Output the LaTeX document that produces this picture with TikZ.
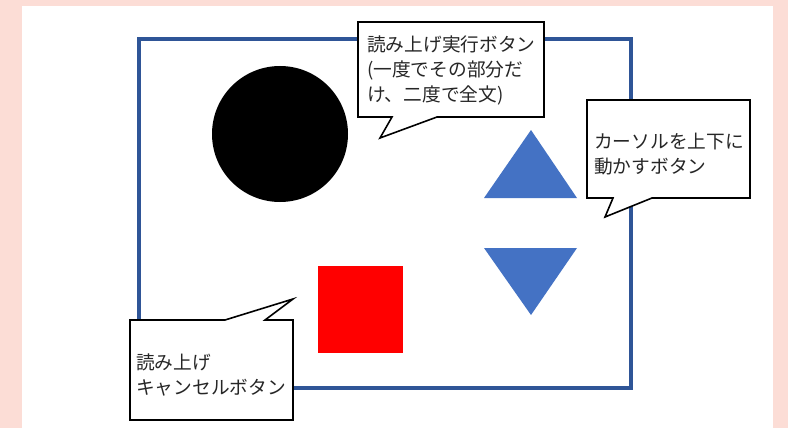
\documentclass[tikz,border=0pt]{standalone}
\usepackage{fontspec}
\newfontfamily\jp{Noto Sans CJK JP}
\definecolor{pinkbg}{HTML}{FCDDD6}
\definecolor{framebl}{HTML}{2F5597}
\definecolor{triblue}{HTML}{4472C4}
\tikzset{
  callout/.style={draw=black, fill=white, line width=1.6pt, line join=miter},
  ctext/.style={font=\jp\fontsize{18.7}{25}\selectfont, align=left, inner sep=0pt, anchor=west, text=black!85},
}
\begin{document}
\begin{tikzpicture}[x=1pt,y=-1pt]
\useasboundingbox (0,0) rectangle (788,428);
\fill[pinkbg] (0,0) rectangle (788,428);
\fill[white] (22,6) rectangle (773,428);
% frame
\draw[framebl, line width=4pt] (139,39) rectangle (631,388);
% shapes
\fill[black] (280,134) circle (68);
\fill[red] (318,266) rectangle (403,353);
\fill[triblue] (531,130) -- (577,198) -- (484,198) -- cycle;
\fill[triblue] (484,248) -- (577,248) -- (531,315) -- cycle;
% callout 1
\draw[callout] (358,22) -- (544,22) -- (544,117) -- (437,117) -- (380,138) -- (392,117) -- (358,117) -- cycle;
\node[ctext] (t1) at (367,70) {読み上げ実行ボタン\\(一度でその部分だ\\け、二度で全文)};
% callout 2
\draw[callout] (587,100) -- (750,100) -- (750,198) -- (652,198) -- (605,217) -- (613,198) -- (587,198) -- cycle;
\node[ctext] (t2) at (594,154.5) {カーソルを上下に\\動かすボタン};
% callout 3
\draw[callout] (130,320) -- (225,320) -- (293,299) -- (265,320) -- (293,320) -- (293,420) -- (130,420) -- cycle;
\node[ctext] (t3) at (136,374.5) {読み上げ\\キャンセルボタン};
\end{tikzpicture}
\end{document}
